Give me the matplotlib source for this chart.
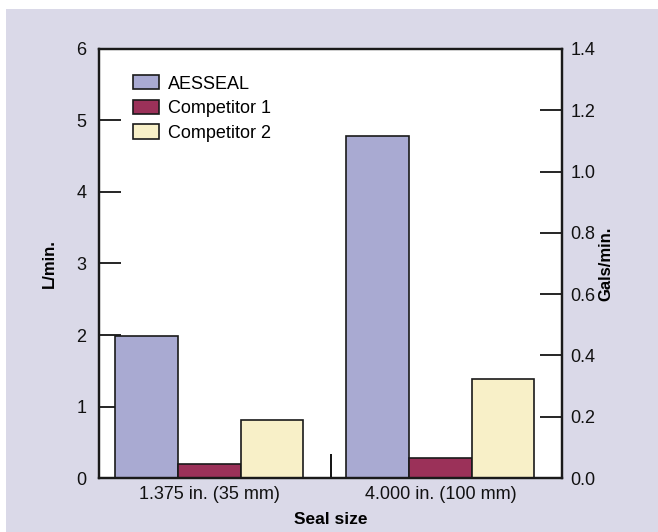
import matplotlib
matplotlib.use("Agg")
import matplotlib.pyplot as plt
from matplotlib.patches import Rectangle
import numpy as np

categories = ["1.375 in. (35 mm)", "4.000 in. (100 mm)"]
series_names = ["AESSEAL", "Competitor 1", "Competitor 2"]
aesseal = [1.98, 4.79]
competitor1 = [0.20, 0.28]
competitor2 = [0.81, 1.39]
left_ticks = [0, 1, 2, 3, 4, 5, 6]
right_ticks = [0.0, 0.2, 0.4, 0.6, 0.8, 1.0, 1.2, 1.4]
colors = ["#A9AAD2", "#9B3159", "#F8F0C8"]

font = ["Liberation Sans Narrow", "Liberation Sans", "DejaVu Sans"]
plt.rcParams['font.family'] = font

fig = plt.figure(figsize=(6.58, 5.32), dpi=100)
fig.patch.set_facecolor("white")
bg = Rectangle((6/658, 0), 1, 1 - 9/532, transform=fig.transFigure,
               facecolor="#DAD9E8", edgecolor="none", zorder=-10)
fig.patches.append(bg)

ax = fig.add_axes([0.1499, 0.1015, 0.8546 - 0.1499, 0.9079 - 0.1015])
ax.set_facecolor("white")

x = np.arange(len(categories))
w = 0.2713
for i, (vals, name) in enumerate(zip([aesseal, competitor1, competitor2], series_names)):
    ax.bar(x + (i - 1) * w, vals, width=w, color=colors[i], edgecolor="#1a1a1a",
           linewidth=1.2, label=name, zorder=2)

ax.set_xlim(-0.4786, 1.528)
ax.set_ylim(0, 6)
ax.set_yticks(left_ticks)
ax.set_yticklabels([str(t) for t in left_ticks])
ax.set_xticks(x)
ax.set_xticklabels(categories)
ax.tick_params(axis='x', length=0, pad=6, labelsize=13, labelcolor="#111111")
ax.tick_params(axis='y', direction='in', length=16, width=1.2, labelsize=13,
               pad=9, labelcolor="#111111")
ax.set_xticks([0.526], minor=True)
ax.tick_params(axis='x', which='minor', direction='in', length=17, width=1.3)

for s in ax.spines.values():
    s.set_linewidth(1.6)
    s.set_color("#1a1a1a")

ax2 = ax.twinx()
ax2.set_ylim(0, 1.4)
ax2.set_yticks(right_ticks)
ax2.set_yticklabels([f"{t:.1f}" for t in right_ticks])
ax2.tick_params(axis='y', direction='in', length=16, width=1.2, labelsize=13,
                pad=6, labelcolor="#111111")
for s in ax2.spines.values():
    s.set_linewidth(1.6)
    s.set_color("#1a1a1a")

ax.set_ylabel("L/min.", fontsize=12, fontweight='bold', labelpad=14)
ax2.set_ylabel("Gals/min.", fontsize=12, fontweight='bold', labelpad=2)
ax.set_xlabel("Seal size", fontsize=12.5, fontweight='bold', labelpad=6)

leg = ax.legend(loc="upper left", bbox_to_anchor=(0.059, 0.956), frameon=False,
                fontsize=13, handlelength=1.45, handleheight=0.85,
                handletextpad=0.5, labelspacing=0.4, borderaxespad=0)

fig.savefig("out.png", dpi=100, facecolor=fig.get_facecolor())
